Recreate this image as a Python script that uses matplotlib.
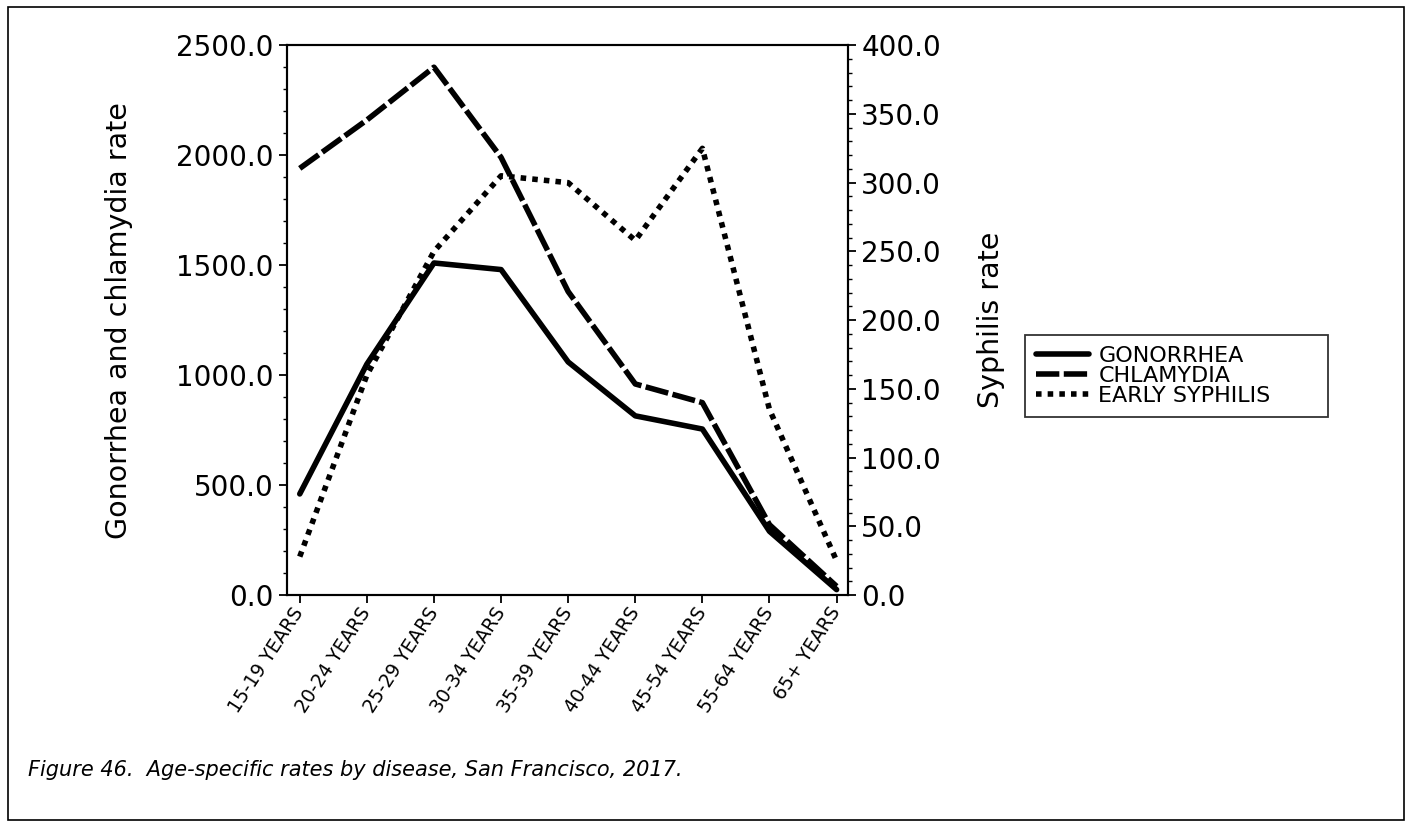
import numpy as np
import matplotlib.pyplot as plt
from matplotlib.ticker import MultipleLocator, FormatStrFormatter
from matplotlib.patches import Rectangle

plt.rcParams['font.family'] = ['DejaVu Sans']

ages = ['15-19 YEARS', '20-24 YEARS', '25-29 YEARS', '30-34 YEARS', '35-39 YEARS',
        '40-44 YEARS', '45-54 YEARS', '55-64 YEARS', '65+ YEARS']
gonorrhea = [460, 1050, 1510, 1480, 1060, 815, 755, 290, 25]
chlamydia = [1940, 2160, 2400, 1990, 1380, 960, 875, 320, 40]
syphilis = [28, 160, 250, 305, 300, 258, 325, 135, 25]

fig = plt.figure(figsize=(14.11, 8.22), dpi=100)
ax = fig.add_axes([0.2034, 0.276, 0.3976, 0.669])
ax2 = ax.twinx()

x = np.arange(len(ages))
l1, = ax.plot(x, gonorrhea, color='black', lw=4, solid_capstyle='round', solid_joinstyle='round')
l2, = ax.plot(x, chlamydia, color='black', lw=4, dashes=(4.2, 0.8), dash_capstyle='butt')
l3, = ax2.plot(x, syphilis, color='black', lw=4, dashes=(1.0, 1.1), dash_capstyle='butt')

ax.set_xlim(-0.19, 8.17)
ax.set_ylim(0, 2500)
ax2.set_ylim(0, 400)

ax.yaxis.set_major_locator(MultipleLocator(500))
ax.yaxis.set_minor_locator(MultipleLocator(100))
ax.yaxis.set_major_formatter(FormatStrFormatter('%.1f'))
ax2.yaxis.set_major_locator(MultipleLocator(50))
ax2.yaxis.set_minor_locator(MultipleLocator(10))
ax2.yaxis.set_major_formatter(FormatStrFormatter('%.1f'))

ax.set_xticks(x)
ax.set_xticklabels(ages, rotation=57, ha='right', va='center', rotation_mode='anchor', fontsize=13.5)

for a in (ax, ax2):
    a.tick_params(axis='y', which='major', length=6, width=1.3, labelsize=20, direction='out')
    a.tick_params(axis='y', which='minor', length=3, width=1.0, direction='out')
    for s in a.spines.values():
        s.set_linewidth(1.5)
ax.tick_params(axis='x', length=6, width=1.3, direction='out', pad=4)

ax.set_ylabel('Gonorrhea and chlamydia rate', fontsize=20.5, labelpad=31)
ax2.set_ylabel('Syphilis rate', fontsize=20.5, labelpad=26)

leg = fig.legend([l1, l2, l3], ['GONORRHEA', 'CHLAMYDIA', 'EARLY SYPHILIS'],
                 loc='upper left', bbox_to_anchor=(0.7264, 0.483, 0.2147, 0.1095),
                 mode='expand', borderaxespad=0, fontsize=16,
                 frameon=True, fancybox=False, edgecolor='black', handlelength=2.4,
                 handletextpad=0.4, labelspacing=0.0, borderpad=0.5)
leg.get_frame().set_linewidth(1.3)

fig.text(0.020, 0.063, 'Figure 46.  Age-specific rates by disease, San Francisco, 2017.',
         fontsize=15, style='italic', va='center')

fig.patches.append(Rectangle((0.006, 0.003), 0.989, 0.988, transform=fig.transFigure,
                             fill=False, edgecolor='black', lw=1.2))

fig.savefig('out.png', dpi=100)
